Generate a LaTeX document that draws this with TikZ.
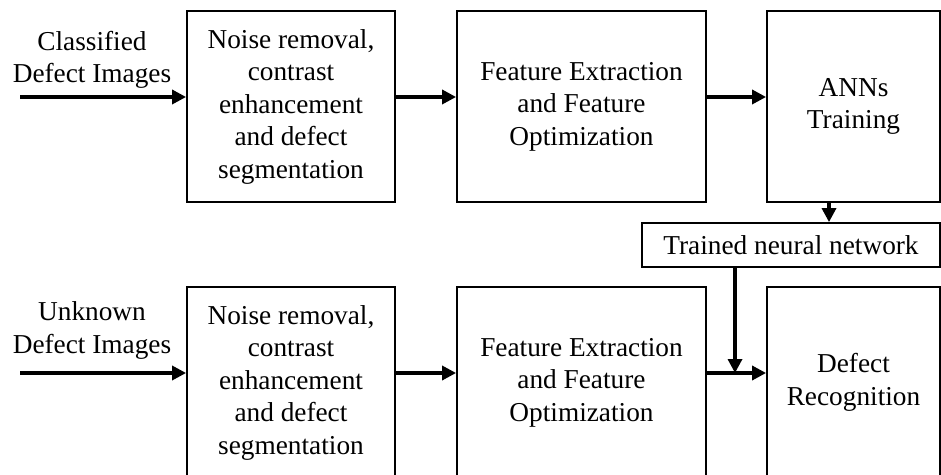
\documentclass[tikz,border=0pt]{standalone}
\usepackage{fontspec}
\setmainfont{Liberation Serif}
\usetikzlibrary{arrows.meta}
\begin{document}
\begin{tikzpicture}[x=1pt,y=1pt,
  font=\fontsize{27.3}{32.5}\selectfont,
  stage/.style={draw,line width=1.8pt,align=center,minimum height=191pt,inner sep=0pt,
    execute at begin node={\rule{0pt}{27pt}}},
  label/.style={align=center,inner sep=0pt},
  flow/.style={line width=3.3pt,-{Triangle[length=14pt,width=14pt]}}]
\useasboundingbox (0,0) rectangle (941,474);
\clip (0,0) rectangle (941,474);

\draw (92,414) node[label] (cls) {Classified\\Defect Images};
\draw (291,367.5) node[stage,minimum width=208pt] (pre) {Noise removal,\\contrast\\enhancement\\and defect\\segmentation};
\draw (581.5,367.5) node[stage,minimum width=249pt] (feat) {Feature Extraction\\and Feature\\Optimization};
\draw (853.5,367.5) node[stage,minimum width=173pt] (ann) {ANNs\\Training};
\draw (791,229) node[draw,line width=1.8pt,minimum width=298pt,minimum height=44pt,inner sep=0pt] (tnn) {Trained neural network};

\draw (92,143.5) node[label] (unk) {Unknown\\Defect Images};
\draw (291,91.5) node[stage,minimum width=208pt] (pre2) {Noise removal,\\contrast\\enhancement\\and defect\\segmentation};
\draw (581.5,91.5) node[stage,minimum width=249pt] (feat2) {Feature Extraction\\and Feature\\Optimization};
\draw (853.5,91.5) node[stage,minimum width=173pt] (rec) {Defect\\Recognition};

\coordinate (in1) at (20,377);
\coordinate (in2) at (20,101);
\coordinate (down1) at (829,0);
\coordinate (join) at (735,101);

\draw [flow] (in1) -- (in1 -| pre.west);
\draw [flow] (pre.east |- in1) -- (feat.west |- in1);
\draw [flow] (feat.east |- in1) -- (ann.west |- in1);
\draw [flow] (ann.south -| down1) -- (tnn.north -| down1);

\draw [flow] (in2) -- (in2 -| pre2.west);
\draw [flow] (pre2.east |- in2) -- (feat2.west |- in2);
\draw [flow] (feat2.east |- in2) -- (rec.west |- in2);
\draw [flow] (tnn.south -| join) -- (join);
\end{tikzpicture}
\end{document}
